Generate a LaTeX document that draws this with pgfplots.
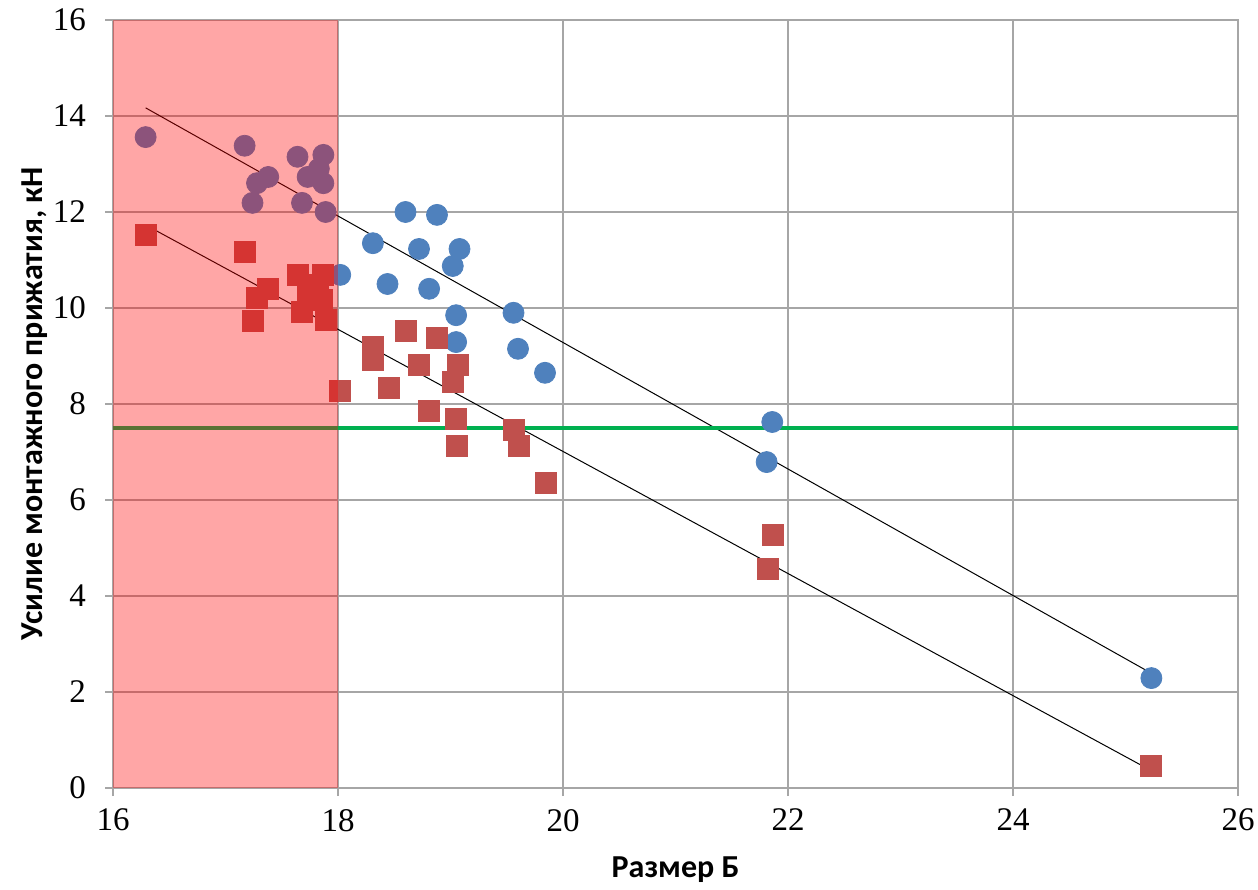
\documentclass[border=0pt]{standalone}
\usepackage{pgfplots}
\pgfplotsset{compat=1.18}
\usepackage{fontspec}
\setmainfont{Liberation Serif}
\newfontfamily\labelfont{Carlito}
\definecolor{xblue}{HTML}{4F81BD}
\definecolor{xred}{HTML}{C0504D}
\definecolor{xgreen}{HTML}{00B050}
\definecolor{xgrid}{HTML}{A6A6A6}
\begin{document}
\begin{tikzpicture}
\begin{axis}[
  set layers,
  at={(0,0)}, anchor=south west,
  scale only axis, width=562.5pt, height=384pt,
  xmin=16, xmax=26, ymin=0, ymax=16,
  xtick={16,18,...,26}, ytick={0,2,...,16},
  grid=major, grid style={xgrid, line width=0.6pt},
  axis line style={xgrid, line width=0.8pt},
  tick style={xgrid, line width=0.6pt},
  tick align=outside, xtick pos=bottom, ytick pos=left,
  major tick length=4pt,
  /pgf/number format/assume math mode=true,
  ticklabel style={font=\fontsize{16.5}{18}\selectfont},
  xticklabel style={yshift=-3pt},
  yticklabel style={xshift=-6pt},
  xlabel={\bfseries Размер Б},
  ylabel={\bfseries Усилие монтажного прижатия, кН},
  label style={font=\labelfont\fontsize{16}{18}\selectfont},
  xlabel style={at={(axis description cs:0.5,0)}, anchor=center, yshift=-41pt},
  ylabel style={at={(axis description cs:0,0.5)}, anchor=center, yshift=39pt},
  clip=false,
]
% blue series
\addplot[only marks, mark=*, mark size=5.25pt, mark options={fill=xblue, draw=xblue}] coordinates {
(16.29,13.56)(17.17,13.38)(17.64,13.15)(17.87,13.19)(17.38,12.73)(17.28,12.60)
(17.73,12.73)(17.83,12.90)(17.87,12.60)(17.24,12.19)(17.68,12.19)(17.89,12.00)
(18.02,10.69)(18.31,11.35)(18.60,12.00)(18.88,11.94)(18.72,11.23)(19.08,11.23)
(19.02,10.875)(18.44,10.50)(18.81,10.40)(19.05,9.85)(19.05,9.29)(19.56,9.90)
(19.60,9.15)(19.84,8.65)(21.86,7.625)(21.81,6.79)(25.23,2.29)
};
% red series
\addplot[only marks, mark=square*, mark size=5.25pt, mark options={fill=xred, draw=xred}] coordinates {
(16.29,11.52)(17.17,11.17)(17.64,10.69)(17.87,10.69)(17.38,10.40)(17.28,10.21)
(17.73,10.29)(17.86,10.17)(17.68,9.92)(17.89,9.75)(17.24,9.73)(17.82,10.48)
(18.02,8.28)(18.31,9.19)(18.31,8.92)(18.45,8.33)(18.60,9.53)(18.88,9.37)
(18.72,8.81)(19.07,8.81)(19.02,8.46)(18.81,7.85)(19.05,7.69)(19.06,7.13)
(19.56,7.46)(19.61,7.13)(19.85,6.35)(21.87,5.27)(21.82,4.56)(25.23,0.46)
};
% trend lines
\addplot[black, line width=0.5pt, no marks] coordinates {(16.29,14.17)(25.23,2.39)};
\addplot[black, line width=0.5pt, no marks] coordinates {(16.29,11.73)(25.23,0.36)};
% threshold
\addplot[xgreen, line width=2pt, no marks] coordinates {(16,7.5)(26,7.5)};
% shaded region
\addplot[on layer=axis foreground, draw=none, fill=red, fill opacity=0.35] coordinates {(16,0)(18,0)(18,16)(16,16)} -- cycle;
\end{axis}
\pgfresetboundingbox
\path (-56.5pt,-50.5pt) rectangle (572.5pt,394pt);
\end{tikzpicture}
\end{document}
